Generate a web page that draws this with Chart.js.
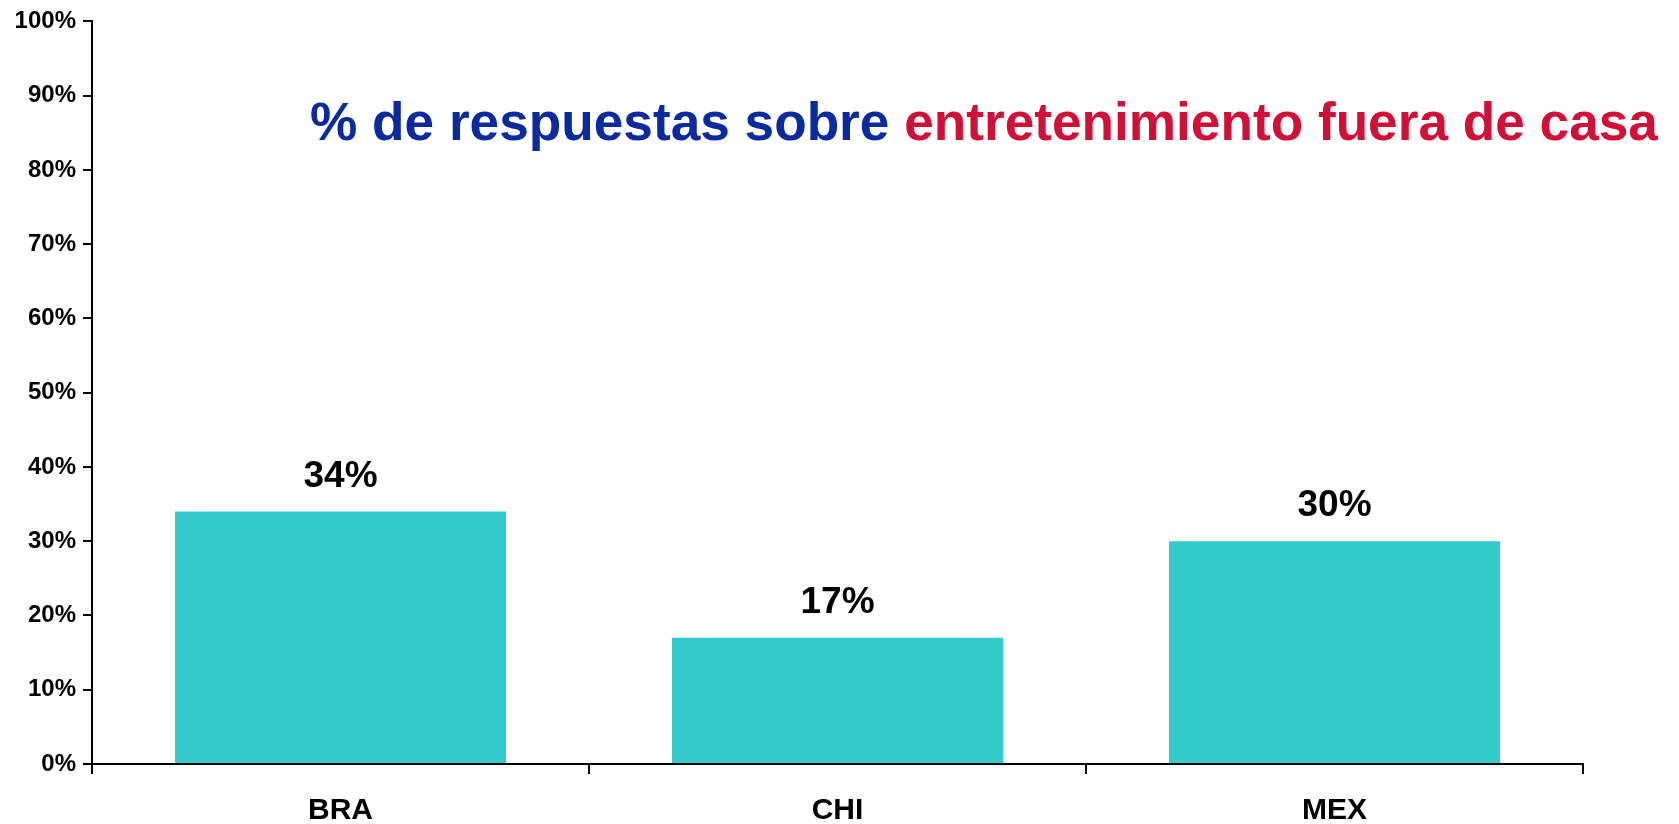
<!DOCTYPE html>
<html>
<head>
<meta charset="utf-8">
<script src="https://cdn.jsdelivr.net/npm/chart.js@4/dist/chart.umd.min.js"></script>
<style>
  html, body { margin: 0; padding: 0; background: #fff; }
  #c { display: block; }
</style>
</head>
<body>
<canvas id="c" width="1679" height="824" style="width:1679px;height:824px"></canvas>
<script>
const categories = ["BRA", "CHI", "MEX"];
const values = [34, 17, 30];
const yTicks = [0, 10, 20, 30, 40, 50, 60, 70, 80, 90, 100];
const titlePart1 = "% de respuestas sobre ";
const titlePart2 = "entretenimiento fuera de casa";

const FONT = "'Liberation Sans', Arial, sans-serif";

const overlayPlugin = {
  id: 'overlay',
  afterDatasetsDraw(chart) {
    const ctx = chart.ctx;
    const xs = chart.scales.x, ys = chart.scales.y;
    ctx.save();
    ctx.fillStyle = '#000';
    ctx.font = "bold 37px " + FONT;
    ctx.textAlign = 'center';
    ctx.textBaseline = 'middle';
    values.forEach((v, i) => {
      const x = xs.getPixelForValue(i);
      const y = ys.getPixelForValue(v) - 35;
      ctx.fillText(v + '%', x, y);
    });
    // title
    ctx.font = "bold 53.2px " + FONT;
    ctx.textAlign = 'left';
    ctx.textBaseline = 'alphabetic';
    const tx = 310, ty = 140;
    ctx.fillStyle = '#0A2A9F';
    ctx.fillText(titlePart1, tx, ty);
    const w = ctx.measureText(titlePart1).width;
    ctx.fillStyle = '#D20F37';
    ctx.fillText(titlePart2, tx + w, ty);
    ctx.restore();
  }
};

new Chart(document.getElementById('c'), {
  type: 'bar',
  data: {
    labels: categories,
    datasets: [{
      data: values,
      backgroundColor: '#33CCCC',
      borderWidth: 0,
      categoryPercentage: 1.0,
      barPercentage: 0.666
    }]
  },
  options: {
    responsive: false,
    animation: false,
    devicePixelRatio: 1,
    layout: { padding: { top: 18, right: 96, left: 0, bottom: 0 } },
    plugins: { legend: { display: false }, tooltip: { enabled: false }, title: { display: false } },
    scales: {
      x: {
        grid: { display: true, drawOnChartArea: false, drawTicks: true, tickLength: 10, color: '#000', lineWidth: 2, offset: true },
        border: { display: true, color: '#000', width: 2 },
        ticks: { color: '#000', font: { family: FONT, size: 30, weight: 'bold' }, padding: 19, maxRotation: 0 },
        afterFit(scale) { scale.height = 60; }
      },
      y: {
        min: 0, max: 100,
        afterBuildTicks(scale) { scale.ticks = yTicks.map(v => ({ value: v })); },
        grid: { display: true, drawOnChartArea: false, drawTicks: true, tickLength: 9, color: '#000', lineWidth: 2 },
        border: { display: true, color: '#000', width: 2 },
        ticks: { color: '#000', font: { family: FONT, size: 24, weight: 'bold' }, padding: 7, callback: v => v + '%' },
        afterFit(scale) { scale.width = 92; }
      }
    }
  },
  plugins: [overlayPlugin]
});
</script>
</body>
</html>
